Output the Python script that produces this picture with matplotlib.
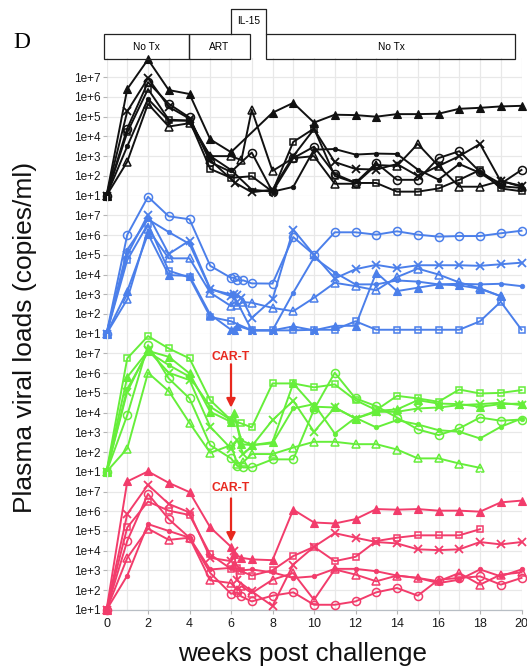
import numpy as np
import matplotlib
matplotlib.use("Agg")
import matplotlib.pyplot as plt
from matplotlib.patches import Rectangle

plt.rcParams['font.family'] = ['Liberation Sans', 'DejaVu Sans']

# ---------------- data: log10(copies/ml) ----------------
wk_std = list(range(21))

# Panel 1 (black)
p1_tri_f_wk = [0, 1, 2, 3, 4, 5, 6, 8, 9, 10, 11, 12, 13, 14, 15, 16, 17, 18, 19, 20]
p1_tri_f = [1, 6.4, 7.9, 6.35, 6.15, 3.85, 3.2, 5.2, 5.7, 4.7, 5.1, 5.08, 5.0, 5.13, 5.13, 5.15, 5.4, 5.45, 5.52, 5.55]
p1_tri_o_wk = [0, 1, 2, 3, 4, 5, 6, 6.5, 7, 8, 9, 10, 11, 12, 13, 14, 15, 16, 17, 18, 19, 20]
p1_tri_o = [1, 2.72, 5.65, 4.5, 4.67, 3.0, 3.0, 2.8, 5.35, 2.25, 2.9, 3.0, 1.6, 1.6, 2.55, 2.5, 3.62, 2.5, 1.45, 1.45, 1.75, 1.45]
p1_circ_wk = wk_std
p1_circ = [1, 4.4, 6.75, 5.65, 4.96, 2.7, 2.2, 3.18, 1.2, 2.9, 3.48, 2.1, 1.65, 2.65, 1.8, 1.8, 2.9, 3.25, 2.2, 1.6, 2.3]
p1_sq_wk = wk_std
p1_sq = [1, 4.2, 6.4, 4.85, 4.8, 2.35, 1.9, 1.98, 1.2, 3.72, 4.4, 2.0, 1.64, 1.64, 1.2, 1.2, 1.36, 1.8, 2.3, 1.36, 1.22]
p1_x_wk = [0, 1, 2, 3, 4, 5, 6.2, 7, 8, 9, 10, 11, 12, 13, 14, 15, 16, 17, 18, 19, 20]
p1_x = [1, 5.27, 6.95, 5.5, 4.9, 2.8, 1.65, 1.17, 1.3, 3.0, 4.37, 2.7, 2.35, 2.32, 2.6, 2.0, 2.5, 3.0, 3.62, 1.73, 1.5]
p1_dot_wk = wk_std
p1_dot = [1, 3.5, 5.9, 4.8, 4.8, 3.0, 2.3, 1.3, 1.2, 1.44, 3.33, 3.36, 3.08, 3.13, 3.11, 2.32, 1.81, 2.6, 2.15, 1.47, 1.39]

# Panel 2 (blue)
p2_circ_wk = [0, 1, 2, 3, 4, 5, 6, 6.15, 6.3, 6.6, 7, 8, 9, 10, 11, 12, 13, 14, 15, 16, 17, 18, 19, 20]
p2_circ = [1, 6.01, 7.94, 6.95, 6.8, 4.44, 3.83, 3.85, 3.7, 3.7, 3.55, 3.54, 5.9, 5.0, 6.14, 6.14, 6.02, 6.19, 6.02, 5.92, 5.95, 5.95, 6.09, 6.22]
p2_x_wk = [0, 1, 2, 3, 4, 5, 6, 6.15, 6.3, 6.5, 7, 8, 9, 10, 11, 12, 13, 14, 15, 16, 17, 18, 19, 20]
p2_x = [1, 5.0, 7.03, 5.04, 5.72, 3.28, 2.9, 3.0, 2.95, 2.82, 1.8, 2.74, 6.28, 5.0, 3.8, 4.27, 4.49, 4.32, 4.47, 4.47, 4.47, 4.44, 4.52, 4.6]
p2_dot_wk = [0, 1, 2, 3, 4, 5, 6, 6.15, 7, 8, 9, 10, 11, 12, 13, 14, 15, 16, 17, 18, 19, 20]
p2_dot = [1, 5.26, 6.8, 6.15, 5.55, 3.25, 2.99, 2.9, 1.17, 1.17, 3.08, 4.86, 4.1, 3.5, 3.5, 3.7, 3.64, 3.5, 3.53, 3.5, 3.53, 3.41]
p2_tri_o_wk = [0, 1, 2, 3, 4, 5, 6, 6.15, 6.3, 6.6, 7, 8, 9, 10, 11, 12, 13, 14, 15, 16, 17, 18, 19]
p2_tri_o = [1, 2.74, 6.3, 4.82, 4.82, 3.08, 2.4, 2.6, 2.45, 2.6, 2.57, 2.31, 2.14, 2.82, 3.58, 3.41, 3.2, 3.87, 4.3, 4.0, 3.6, 3.3, 2.9]
p2_tri_f_wk = [0, 1, 2, 3, 4, 5, 6, 6.15, 6.3, 7, 8, 9, 10, 11, 12, 13, 14, 15, 16, 17, 18, 19]
p2_tri_f = [1, 3.16, 6.06, 3.97, 3.93, 1.97, 1.2, 1.2, 1.4, 1.17, 1.17, 1.37, 1.17, 1.4, 1.4, 4.1, 3.16, 3.33, 3.5, 3.45, 3.28, 2.9]
p2_sq_wk = wk_std
p2_sq = [1, 4.73, 6.57, 4.19, 3.85, 1.85, 1.63, 1.17, 1.17, 1.17, 1.2, 1.2, 1.63, 1.2, 1.2, 1.2, 1.2, 1.2, 1.63, 2.62, 1.2]

# Panel 3 (green)
p3_sq_wk = [0, 1, 2, 3, 4, 5, 6, 6.5, 7, 8, 9, 10, 11, 12, 13, 14, 15, 16, 17, 18, 19, 20]
p3_sq = [1, 6.75, 7.88, 7.25, 6.75, 4.63, 3.62, 3.45, 3.25, 5.48, 5.48, 5.28, 5.43, 4.63, 4.13, 4.85, 4.72, 4.55, 5.17, 4.97, 5.0, 5.14]
p3_circ_wk = [0, 1, 2, 3, 4, 5, 6, 6.3, 6.6, 7, 8, 9, 10, 11, 12, 13, 14, 15, 16, 17, 18, 19, 20]
p3_circ = [1, 3.87, 7.42, 5.73, 4.72, 2.35, 1.68, 1.3, 1.22, 1.22, 1.63, 1.63, 4.16, 6.02, 4.72, 4.33, 3.75, 3.15, 2.86, 3.2, 3.75, 3.59, 3.65]
p3_tri_o_wk = [0, 1, 2, 3, 4, 5, 6, 6.3, 6.6, 7, 8, 9, 10, 11, 12, 13, 14, 15, 16, 17, 18]
p3_tri_o = [1, 2.18, 6.02, 5.09, 3.48, 1.96, 2.35, 1.4, 1.5, 1.9, 1.9, 2.23, 2.52, 2.52, 2.4, 2.4, 2.13, 1.68, 1.68, 1.42, 1.2]
p3_x_wk = [0, 1, 2, 3, 4, 5, 6, 6.3, 6.6, 7, 8, 9, 10, 11, 12, 13, 14, 15, 16, 17, 18, 19, 20]
p3_x = [1, 5.06, 7.17, 6.02, 5.65, 3.28, 2.18, 2.6, 1.9, 2.3, 3.62, 4.6, 3.03, 4.26, 3.7, 4.04, 4.04, 4.21, 4.26, 4.38, 4.43, 4.5, 4.38]
p3_dot_wk = [0, 1, 2, 3, 4, 5, 6, 6.15, 6.5, 7, 8, 9, 10, 11, 12, 13, 14, 15, 16, 17, 18, 19, 20]
p3_dot = [1, 5.2, 7.08, 6.41, 5.82, 4.3, 3.62, 3.9, 2.6, 2.35, 2.44, 4.21, 4.43, 2.94, 3.74, 3.25, 3.62, 3.4, 3.11, 3.03, 2.69, 3.28, 3.7]
p3_tri_f_wk = [0, 1, 2, 3, 4, 5, 6, 6.15, 6.5, 7, 8, 9, 10, 11, 12, 13, 14, 15, 16, 17, 18, 19, 20]
p3_tri_f = [1, 5.8, 7.13, 6.83, 5.99, 4.04, 3.53, 3.96, 2.4, 2.35, 2.5, 5.48, 4.3, 4.26, 3.7, 4.09, 4.16, 4.63, 4.46, 4.43, 4.3, 4.43, 4.46]

# Panel 4 (red)
p4_tri_f_wk = [0, 1, 2, 3, 4, 5, 6, 6.15, 6.5, 7, 8, 9, 10, 11, 12, 13, 14, 15, 16, 17, 18, 19, 20]
p4_tri_f = [1, 7.51, 8.02, 7.44, 6.97, 5.18, 4.2, 3.85, 3.64, 3.56, 3.52, 6.08, 5.43, 5.38, 5.6, 6.11, 6.08, 6.11, 6.03, 6.03, 5.98, 6.45, 6.54]
p4_x_wk = [0, 1, 2, 3, 4, 5, 6, 6.15, 6.3, 7, 8, 9, 10, 11, 12, 13, 14, 15, 16, 17, 18, 19, 20]
p4_x = [1, 5.86, 7.34, 6.37, 5.94, 3.64, 3.47, 4.0, 2.5, 1.94, 1.2, 3.3, 4.2, 4.89, 4.66, 4.44, 4.37, 4.07, 4.03, 4.07, 4.44, 4.32, 4.44]
p4_sq_wk = [0, 1, 2, 3, 4, 5, 6, 6.3, 6.5, 7, 8, 9, 10, 11, 12, 13, 14, 15, 16, 17, 18]
p4_sq = [1, 5.18, 6.49, 6.03, 5.81, 3.81, 3.08, 3.1, 2.96, 2.74, 3.01, 3.73, 4.2, 3.47, 3.69, 4.49, 4.66, 4.78, 4.78, 4.78, 5.09]
p4_circ_wk = [0, 1, 2, 3, 4, 5, 6, 6.3, 6.5, 7, 8, 9, 10, 11, 12, 13, 14, 15, 16, 17, 18, 19, 20]
p4_circ = [1, 4.5, 6.88, 5.6, 4.66, 2.87, 1.82, 1.9, 1.68, 1.43, 1.72, 1.89, 1.26, 1.26, 1.43, 1.89, 2.11, 1.72, 2.53, 2.62, 2.7, 2.28, 2.62]
p4_dot_wk = [0, 1, 2, 3, 4, 5, 6, 6.15, 6.5, 7, 8, 9, 10, 11, 12, 13, 14, 15, 16, 17, 18, 19, 20]
p4_dot = [1, 2.74, 5.35, 5.0, 4.66, 3.05, 3.13, 3.4, 3.0, 3.05, 2.9, 2.62, 2.7, 3.08, 3.08, 2.96, 2.74, 2.62, 2.36, 2.53, 3.05, 2.7, 3.05]
p4_tri_o_wk = [0, 1, 2, 3, 4, 5, 6, 6.3, 6.5, 7, 8, 9, 10, 11, 12, 13, 14, 15, 16, 17, 18, 19, 20]
p4_tri_o = [1, 3.64, 5.12, 4.55, 4.66, 2.5, 2.36, 2.0, 2.2, 1.85, 2.53, 2.87, 1.51, 3.05, 2.79, 2.45, 2.74, 2.62, 2.45, 2.87, 2.28, 2.79, 2.9]

panel_colors = ['#111111', '#4B7FEA', '#66EE3A', '#F23C6B']
ytick_vals = [1e1, 1e2, 1e3, 1e4, 1e5, 1e6, 1e7]
ytick_labels = ['1e+1', '1e+2', '1e+3', '1e+4', '1e+5', '1e+6', '1e+7']
xtick_vals = [0, 2, 4, 6, 8, 10, 12, 14, 16, 18, 20]
cart_color = '#E8281E'

panels = [
    [(p1_sq_wk, p1_sq, 'sq'), (p1_circ_wk, p1_circ, 'circ'), (p1_tri_o_wk, p1_tri_o, 'tri_o'),
     (p1_x_wk, p1_x, 'x'), (p1_dot_wk, p1_dot, 'dot'), (p1_tri_f_wk, p1_tri_f, 'tri_f')],
    [(p2_sq_wk, p2_sq, 'sq'), (p2_circ_wk, p2_circ, 'circ'), (p2_tri_o_wk, p2_tri_o, 'tri_o'),
     (p2_x_wk, p2_x, 'x'), (p2_dot_wk, p2_dot, 'dot'), (p2_tri_f_wk, p2_tri_f, 'tri_f')],
    [(p3_sq_wk, p3_sq, 'sq'), (p3_circ_wk, p3_circ, 'circ'), (p3_tri_o_wk, p3_tri_o, 'tri_o'),
     (p3_x_wk, p3_x, 'x'), (p3_dot_wk, p3_dot, 'dot'), (p3_tri_f_wk, p3_tri_f, 'tri_f')],
    [(p4_sq_wk, p4_sq, 'sq'), (p4_circ_wk, p4_circ, 'circ'), (p4_tri_o_wk, p4_tri_o, 'tri_o'),
     (p4_x_wk, p4_x, 'x'), (p4_dot_wk, p4_dot, 'dot'), (p4_tri_f_wk, p4_tri_f, 'tri_f')],
]

# ---------------- layout ----------------
W, H = 527, 666
fig = plt.figure(figsize=(W / 100, H / 100), dpi=100)
fig.patch.set_facecolor('white')

def fx(px):
    return px / W

def fy(py):
    return 1 - py / H

x_left, x_right = 106.5, 521.5
panel_top = 57.5
panel_h = 138.1

def style(kind, c):
    if kind == 'sq':
        return dict(marker='s', ms=5.0, mfc='none', mec=c, mew=1.1)
    if kind == 'circ':
        return dict(marker='o', ms=5.8, mfc='none', mec=c, mew=1.1)
    if kind == 'tri_o':
        return dict(marker='^', ms=6.0, mfc='none', mec=c, mew=1.1)
    if kind == 'tri_f':
        return dict(marker='^', ms=5.8, mfc=c, mec=c, mew=0.8)
    if kind == 'x':
        return dict(marker='x', ms=5.5, mfc=c, mec=c, mew=1.3)
    return dict(marker='o', ms=3.3, mfc=c, mec=c, mew=0.5)

axes = []
for i, series in enumerate(panels):
    top = panel_top + i * panel_h
    bottom = top + panel_h
    ax = fig.add_axes([fx(x_left), fy(bottom), fx(x_right) - fx(x_left), panel_h / H])
    ax.patch.set_alpha(0)
    ax.set_yscale('log')
    ax.set_xlim(0, 20)
    ax.set_ylim(1e1, 1e8)
    ax.set_xticks(range(21), minor=False)
    ax.set_yticks(ytick_vals)
    ax.set_yticklabels(ytick_labels)
    ax.yaxis.set_minor_locator(matplotlib.ticker.NullLocator())
    ax.grid(True, which='major', color='#E8E8E8', lw=0.9, zorder=0)
    ax.set_axisbelow(True)
    for s in ax.spines.values():
        s.set_visible(False)
    ax.tick_params(axis='y', length=3, width=0.8, color='#B5B5B5', pad=1.5,
                   labelsize=8.5, labelcolor='#1a1a1a')
    if i < 3:
        ax.tick_params(axis='x', length=0, labelbottom=False)
    else:
        ax.set_xticks(range(21))
        ax.set_xticklabels([str(w) if w in xtick_vals else '' for w in range(21)])
        ax.tick_params(axis='x', length=3, width=0.8, color='#B5B5B5', pad=2.5,
                       labelsize=9, labelcolor='#1a1a1a')
        # hide ticks at odd weeks
        for t, w in zip(ax.xaxis.get_major_ticks(), range(21)):
            if w % 2 == 1:
                t.tick1line.set_visible(False)
        ax.spines['bottom'].set_visible(True)
        ax.spines['bottom'].set_color('#B8BEC4')
        ax.spines['bottom'].set_linewidth(0.9)
    c = panel_colors[i]
    for wk, lv, kind in series:
        ax.plot(wk, 10 ** np.asarray(lv, dtype=float), color=c, lw=1.4,
                clip_on=False, zorder=3, **style(kind, c))
    axes.append(ax)

# CAR-T annotations (panels 3 and 4)
for ax, ytxt, ystart, yend in [(axes[2], 6.8, 6.45, 4.25), (axes[3], 7.2, 6.65, 4.45)]:
    ax.text(6, 10 ** ytxt, 'CAR-T', color=cart_color, fontsize=8.8, fontweight='bold',
            ha='center', va='center', zorder=6)
    ax.annotate('', xy=(6, 10 ** yend), xytext=(6, 10 ** ystart),
                arrowprops=dict(arrowstyle='-|>', color=cart_color, lw=1.6,
                                mutation_scale=13, shrinkA=0, shrinkB=0), zorder=6)

# treatment bar on top
axb = fig.add_axes([fx(x_left), fy(59), fx(x_right) - fx(x_left), 50 / H])
axb.set_xlim(0, 20)
axb.set_ylim(0, 2)
axb.axis('off')
box_kw = dict(fill=False, lw=0.9, ec='#222222', clip_on=False)
axb.add_patch(Rectangle((-0.1, 0), 4.07, 1, **box_kw))
axb.add_patch(Rectangle((3.97, 0), 2.93, 1, **box_kw))
axb.add_patch(Rectangle((7.71, 0), 12.0, 1, **box_kw))
axb.plot([5.98, 5.98, 7.71, 7.71], [1, 2, 2, 1], color='#222222', lw=0.9, clip_on=False)
axb.text(1.93, 0.5, 'No Tx', ha='center', va='center', fontsize=7.3)
axb.text(5.43, 0.5, 'ART', ha='center', va='center', fontsize=7.3)
axb.text(6.85, 1.5, 'IL-15', ha='center', va='center', fontsize=7.3)
axb.text(13.71, 0.5, 'No Tx', ha='center', va='center', fontsize=7.3)

# labels
fig.text(fx(13), fy(42), 'D', fontsize=17, family=['Liberation Serif', 'DejaVu Serif'],
         ha='left', va='center')
fig.text(fx(25), fy(337), 'Plasma viral loads (copies/ml)', rotation=90,
         fontsize=19, ha='center', va='center', color='#111111')
fig.text(fx(302.5), fy(654), 'weeks post challenge', fontsize=18.7,
         ha='center', va='center', color='#111111')

fig.savefig('out.png', dpi=100)
